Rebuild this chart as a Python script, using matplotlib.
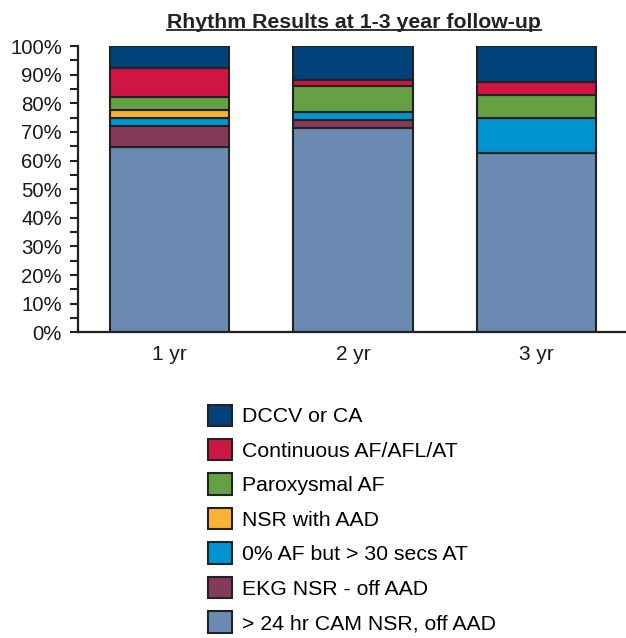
import matplotlib
matplotlib.use("Agg")
import matplotlib.pyplot as plt
from matplotlib.patches import Patch
from matplotlib.lines import Line2D
import numpy as np

plt.rcParams['font.family'] = ['Liberation Sans', 'DejaVu Sans']

categories = ["1 yr", "2 yr", "3 yr"]
# stacking order bottom -> top
series_names = [
    "> 24 hr CAM NSR, off AAD",
    "EKG NSR - off AAD",
    "0% AF but > 30 secs AT",
    "NSR with AAD",
    "Paroxysmal AF",
    "Continuous AF/AFL/AT",
    "DCCV or CA",
]
cam_nsr = [64.8, 71.2, 62.5]
ekg_nsr = [7.4, 2.9, 0.0]
af0_at = [2.8, 2.9, 12.5]
nsr_aad = [2.5, 0.0, 0.0]
parox_af = [4.7, 8.9, 8.0]
cont_af = [10.0, 2.3, 4.3]
dccv = [7.8, 11.8, 12.7]
series_values = [cam_nsr, ekg_nsr, af0_at, nsr_aad, parox_af, cont_af, dccv]
colors = ["#6a8ab2", "#86395a", "#0094d0", "#f9b233", "#65a042", "#cf1541", "#00427a"]
ytick_labels = ["0%", "10%", "20%", "30%", "40%", "50%", "60%", "70%", "80%", "90%", "100%"]

W, H = 626, 638
fig = plt.figure(figsize=(W / 100, H / 100), dpi=100)
ax = fig.add_axes([78 / W, 1 - 332.3 / H, 548 / W, (332.3 - 46) / H])

x = np.arange(len(categories))
bottom = np.zeros(len(categories))
edge = "#222222"
for vals, col in zip(series_values, colors):
    v = np.array(vals)
    ax.bar(x, v, width=0.65, bottom=bottom, color=col, edgecolor=edge, linewidth=1.5, zorder=2)
    bottom += v

ax.set_xlim(-0.497, 2.487)
ax.set_ylim(0, 100)
ax.set_yticks(np.arange(0, 101, 10))
ax.set_yticklabels(ytick_labels, fontsize=14.7, color="#1a1a1a")
ax.set_yticks(np.arange(5, 100, 10), minor=True)
ax.tick_params(axis="y", which="both", direction="out", length=5.5, width=1.5, color="#222222", pad=6)
ax.set_xticks(x)
ax.set_xticklabels(categories, fontsize=15, color="#1a1a1a")
ax.tick_params(axis="x", length=0, pad=9)
for s in ["top", "right"]:
    ax.spines[s].set_visible(False)
for s in ["left", "bottom"]:
    ax.spines[s].set_linewidth(1.6)
    ax.spines[s].set_color("#222222")

# title with underline
title = fig.text(353.7 / W, 1 - 27.5 / H, "Rhythm Results at 1-3 year follow-up",
                 ha="center", va="baseline", fontsize=15.3, fontweight="bold", color="#222222")
fig.canvas.draw()
bb = title.get_window_extent(fig.canvas.get_renderer())
uy = 1 - 29.8 / H
fig.add_artist(Line2D([bb.x0 / W, bb.x1 / W], [uy, uy], transform=fig.transFigure,
                      color="#222222", linewidth=1.3))

handles = [Patch(facecolor=c, edgecolor=edge, linewidth=1.5) for c in colors][::-1]
labels = series_names[::-1]
fig.legend(handles, labels, loc="upper left", bbox_to_anchor=(208 / W, 1 - 404.5 / H),
           frameon=False, fontsize=15.3, handlelength=1.15, handleheight=1.15,
           handletextpad=0.45, labelspacing=0.6, borderpad=0, borderaxespad=0)

fig.savefig("out.png", dpi=100)
